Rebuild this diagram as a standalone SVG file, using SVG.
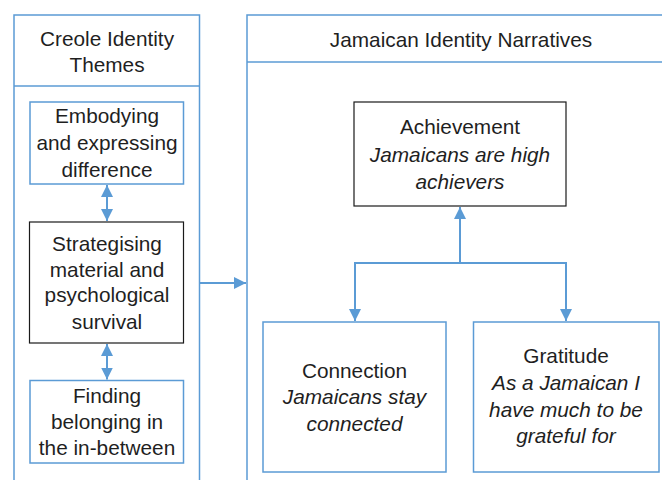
<svg xmlns="http://www.w3.org/2000/svg" width="662" height="480" viewBox="0 0 662 480">
  <style>
    .frame { fill: #ffffff; stroke: #5B9BD5; stroke-width: 1.5; }
    .box-blue { fill: #ffffff; stroke: #5B9BD5; stroke-width: 1.5; }
    .box-dark { fill: #ffffff; stroke: #1a1a1a; stroke-width: 1.2; }
    .link { fill: none; stroke: #5B9BD5; stroke-width: 2; }
    text { font-family: "Liberation Sans", Arial, sans-serif; font-size: 20.8px; fill: #1f1f1f; text-anchor: middle; }
    .it { font-style: italic; }
  </style>
  <defs>
    <marker id="head" viewBox="0 0 10 10" refX="10" refY="5" markerWidth="6" markerHeight="6" orient="auto-start-reverse" markerUnits="strokeWidth">
      <path d="M0,0 L10,5 L0,10 Z" fill="#5B9BD5"/>
    </marker>
  </defs>

  <!-- Left panel: Creole identity themes -->
  <g id="creole-panel">
    <rect class="frame" x="14" y="15" width="185.5" height="480"/>
    <line x1="14" y1="86" x2="199.5" y2="86" stroke="#5B9BD5" stroke-width="1.5"/>
    <text x="107" y="46">Creole Identity</text>
    <text x="107" y="72">Themes</text>
  </g>

  <!-- Right panel: Jamaican identity narratives -->
  <g id="jamaican-panel">
    <rect class="frame" x="247" y="15" width="430" height="480"/>
    <line x1="247" y1="62" x2="677" y2="62" stroke="#5B9BD5" stroke-width="1.5"/>
    <text x="461" y="47">Jamaican Identity Narratives</text>
  </g>

  <g id="embodying">
    <rect class="box-blue" x="30" y="102" width="153.5" height="82"/>
    <text x="107" y="123">Embodying</text>
    <text x="107" y="150">and expressing</text>
    <text x="107" y="177">difference</text>
  </g>

  <g id="strategising">
    <rect class="box-dark" x="29.5" y="222" width="154" height="121"/>
    <text x="107" y="251">Strategising</text>
    <text x="107" y="277">material and</text>
    <text x="107" y="302">psychological</text>
    <text x="107" y="329">survival</text>
  </g>

  <g id="finding">
    <rect class="box-blue" x="30" y="380.5" width="153.5" height="82.5"/>
    <text x="107" y="403">Finding</text>
    <text x="107" y="429">belonging in</text>
    <text x="107" y="455">the in-between</text>
  </g>

  <g id="achievement">
    <rect class="box-dark" x="354" y="102" width="212" height="104"/>
    <text x="460" y="134">Achievement</text>
    <text x="460" y="162" class="it">Jamaicans are high</text>
    <text x="460" y="189" class="it">achievers</text>
  </g>

  <g id="connection">
    <rect class="box-blue" x="263" y="322" width="183" height="150"/>
    <text x="354.5" y="378">Connection</text>
    <text x="354.5" y="404" class="it">Jamaicans stay</text>
    <text x="354.5" y="431" class="it">connected</text>
  </g>

  <g id="gratitude">
    <rect class="box-blue" x="473.5" y="322" width="185.5" height="150"/>
    <text x="566" y="363">Gratitude</text>
    <text x="566" y="390" class="it">As a Jamaican I</text>
    <text x="566" y="417" class="it">have much to be</text>
    <text x="566" y="443" class="it">grateful for</text>
  </g>

  <g id="connectors">
    <line class="link" x1="107" y1="185" x2="107" y2="221" marker-start="url(#head)" marker-end="url(#head)"/>
    <line class="link" x1="107" y1="344" x2="107" y2="379.5" marker-start="url(#head)" marker-end="url(#head)"/>
    <line class="link" x1="200" y1="283" x2="246" y2="283" marker-end="url(#head)"/>
    <line class="link" x1="460" y1="263" x2="460" y2="207" marker-end="url(#head)"/>
    <polyline class="link" points="355,321 355,263 566,263 566,321" marker-start="url(#head)" marker-end="url(#head)"/>
  </g>
</svg>
